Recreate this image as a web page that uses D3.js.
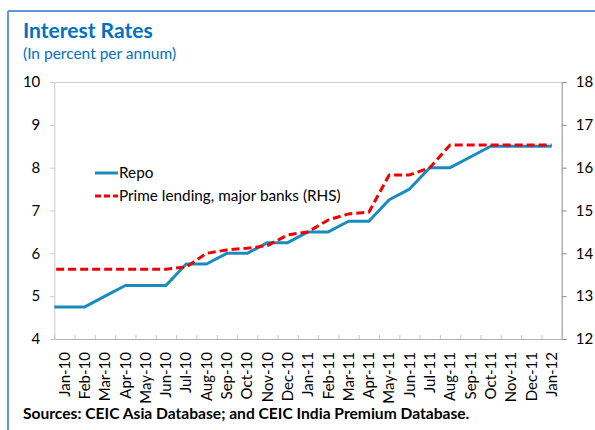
<!DOCTYPE html>
<html>
<head>
<meta charset="utf-8">
<script src="https://cdn.jsdelivr.net/npm/d3@7"></script>
<style>
  html, body { margin: 0; padding: 0; background: #fff; }
  svg { display: block; font-family: Lato, "Noto Sans", sans-serif; }
</style>
</head>
<body>
<svg id="chart" width="595" height="430"></svg>
<script>
// Monthly categories on the x axis
const months = ["Jan-10","Feb-10","Mar-10","Apr-10","May-10","Jun-10","Jul-10","Aug-10","Sep-10","Oct-10","Nov-10","Dec-10",
                "Jan-11","Feb-11","Mar-11","Apr-11","May-11","Jun-11","Jul-11","Aug-11","Sep-11","Oct-11","Nov-11","Dec-11","Jan-12"];
// Value for the month before the first category (line runs in from the plot edge)
const repoPrior = 4.75;
const primePrior = 13.63;
// Policy repo rate (left axis)
const repo = [4.75,4.75,5.0,5.25,5.25,5.25,5.75,5.75,6.0,6.0,6.25,6.25,
              6.5,6.5,6.75,6.75,7.25,7.5,8.0,8.0,8.25,8.5,8.5,8.5,8.5];
// Prime lending rate, major banks (right axis)
const prime = [13.63,13.63,13.63,13.63,13.63,13.63,13.68,14.0,14.08,14.12,14.18,14.43,
               14.5,14.78,14.92,14.96,15.83,15.83,16.0,16.53,16.53,16.53,16.53,16.53,16.53];
const leftTicks = [4,5,6,7,8,9,10];
const rightTicks = [12,13,14,15,16,17,18];

const svg = d3.select("#chart");
const W = 595, H = 430;
const plot = { left: 54.3, right: 561.7, top: 82, bottom: 339 };
const blue = "#0070C0";

// Frame around the exhibit
svg.append("line").attr("x1", 8).attr("x2", W).attr("y1", 11).attr("y2", 11)
  .attr("stroke", "#5B9BD5").attr("stroke-width", 2);
svg.append("line").attr("x1", 8).attr("x2", 8).attr("y1", 11).attr("y2", H)
  .attr("stroke", "#5B9BD5").attr("stroke-width", 2);

// Title and subtitle
svg.append("text").attr("x", 23).attr("y", 38).attr("fill", blue)
  .attr("font-size", 21).attr("font-weight", "bold").text("Interest Rates");
svg.append("text").attr("x", 23).attr("y", 59).attr("fill", blue)
  .attr("font-size", 15.5).text("(In percent per annum)");

// Scales
const xi = d3.scaleLinear().domain([-0.5, months.length - 0.5]).range([plot.left, plot.right]);
const yL = d3.scaleLinear().domain([4, 10]).range([plot.bottom, plot.top]);
const yR = d3.scaleLinear().domain([12, 18]).range([plot.bottom, plot.top]);

// Plot area border (top)
svg.append("line").attr("x1", plot.left).attr("x2", plot.right).attr("y1", plot.top + 0.5).attr("y2", plot.top + 0.5)
  .attr("stroke", "#d0d0d0").attr("stroke-width", 1);

// Left axis
const gL = svg.append("g").attr("transform", `translate(${plot.left},0)`)
  .call(d3.axisLeft(yL).tickValues(leftTicks).tickFormat(d3.format("d"))
    .tickSize(4).tickPadding(10).tickSizeOuter(0));
gL.select(".domain").attr("stroke", "#c8c8c8");
gL.selectAll(".tick line").attr("stroke", "#c8c8c8");
gL.selectAll(".tick text").attr("font-size", 15).attr("fill", "#000").attr("font-family", "Lato, sans-serif");

// Right axis
const gR = svg.append("g").attr("transform", `translate(${plot.right},0)`)
  .call(d3.axisRight(yR).tickValues(rightTicks).tickFormat(d3.format("d"))
    .tickSize(5).tickPadding(9).tickSizeOuter(0));
gR.select(".domain").attr("stroke", "#8c8c8c");
gR.selectAll(".tick line").attr("stroke", "#8c8c8c");
gR.selectAll(".tick text").attr("font-size", 15).attr("fill", "#000").attr("font-family", "Lato, sans-serif");

// Bottom axis: tick marks between categories, labels at category centres
const boundaries = d3.range(months.length + 1).map(i => i - 0.5);
const gB = svg.append("g").attr("transform", `translate(0,${plot.bottom})`)
  .call(d3.axisBottom(xi).tickValues(boundaries).tickSize(-4).tickFormat("").tickSizeOuter(0));
gB.select(".domain").attr("stroke", "#b0b0b0");
gB.selectAll(".tick line").attr("stroke", "#c8c8c8");

svg.append("g").selectAll("text").data(months).join("text")
  .attr("transform", (d, i) => `translate(${xi(i)},${plot.bottom + 13}) rotate(-90)`)
  .attr("text-anchor", "end").attr("dy", "0.35em")
  .attr("font-size", 15).attr("fill", "#000").text(d => d);

// Clip so the lines start at the plot's left edge
svg.append("clipPath").attr("id", "plotClip").append("rect")
  .attr("x", plot.left).attr("y", plot.top - 5)
  .attr("width", plot.right - plot.left).attr("height", plot.bottom - plot.top + 10);

const repoPts = [[-1, repoPrior], ...repo.map((v, i) => [i, v])];
const primePts = [[-1, primePrior], ...prime.map((v, i) => [i, v])];

const lineL = d3.line().x(d => xi(d[0])).y(d => yL(d[1]));
const lineR = d3.line().x(d => xi(d[0])).y(d => yR(d[1]));

const lines = svg.append("g").attr("clip-path", "url(#plotClip)");
lines.append("path").datum(repoPts).attr("d", lineL)
  .attr("fill", "none").attr("stroke", "#1A8BBF").attr("stroke-width", 3).attr("stroke-linejoin", "round");
lines.append("path").datum(primePts).attr("d", lineR)
  .attr("fill", "none").attr("stroke", "#F00000").attr("stroke-width", 3)
  .attr("stroke-dasharray", "8,4").attr("stroke-linejoin", "round");

// Legend
const legend = svg.append("g");
legend.append("line").attr("x1", 95).attr("x2", 118).attr("y1", 173).attr("y2", 173)
  .attr("stroke", "#1A8BBF").attr("stroke-width", 3);
legend.append("text").attr("x", 119).attr("y", 178).attr("font-size", 15.3).attr("fill", "#000").text("Repo");
legend.append("line").attr("x1", 95).attr("x2", 118).attr("y1", 196).attr("y2", 196)
  .attr("stroke", "#F00000").attr("stroke-width", 3).attr("stroke-dasharray", "6,3");
legend.append("text").attr("x", 119).attr("y", 201).attr("font-size", 15.3).attr("fill", "#000")
  .text("Prime lending, major banks (RHS)");

// Source note
svg.append("text").attr("x", 23).attr("y", 419).attr("font-size", 15.6).attr("font-weight", "bold")
  .attr("fill", "#000").text("Sources: CEIC Asia Database; and CEIC India Premium Database.");
</script>
</body>
</html>
